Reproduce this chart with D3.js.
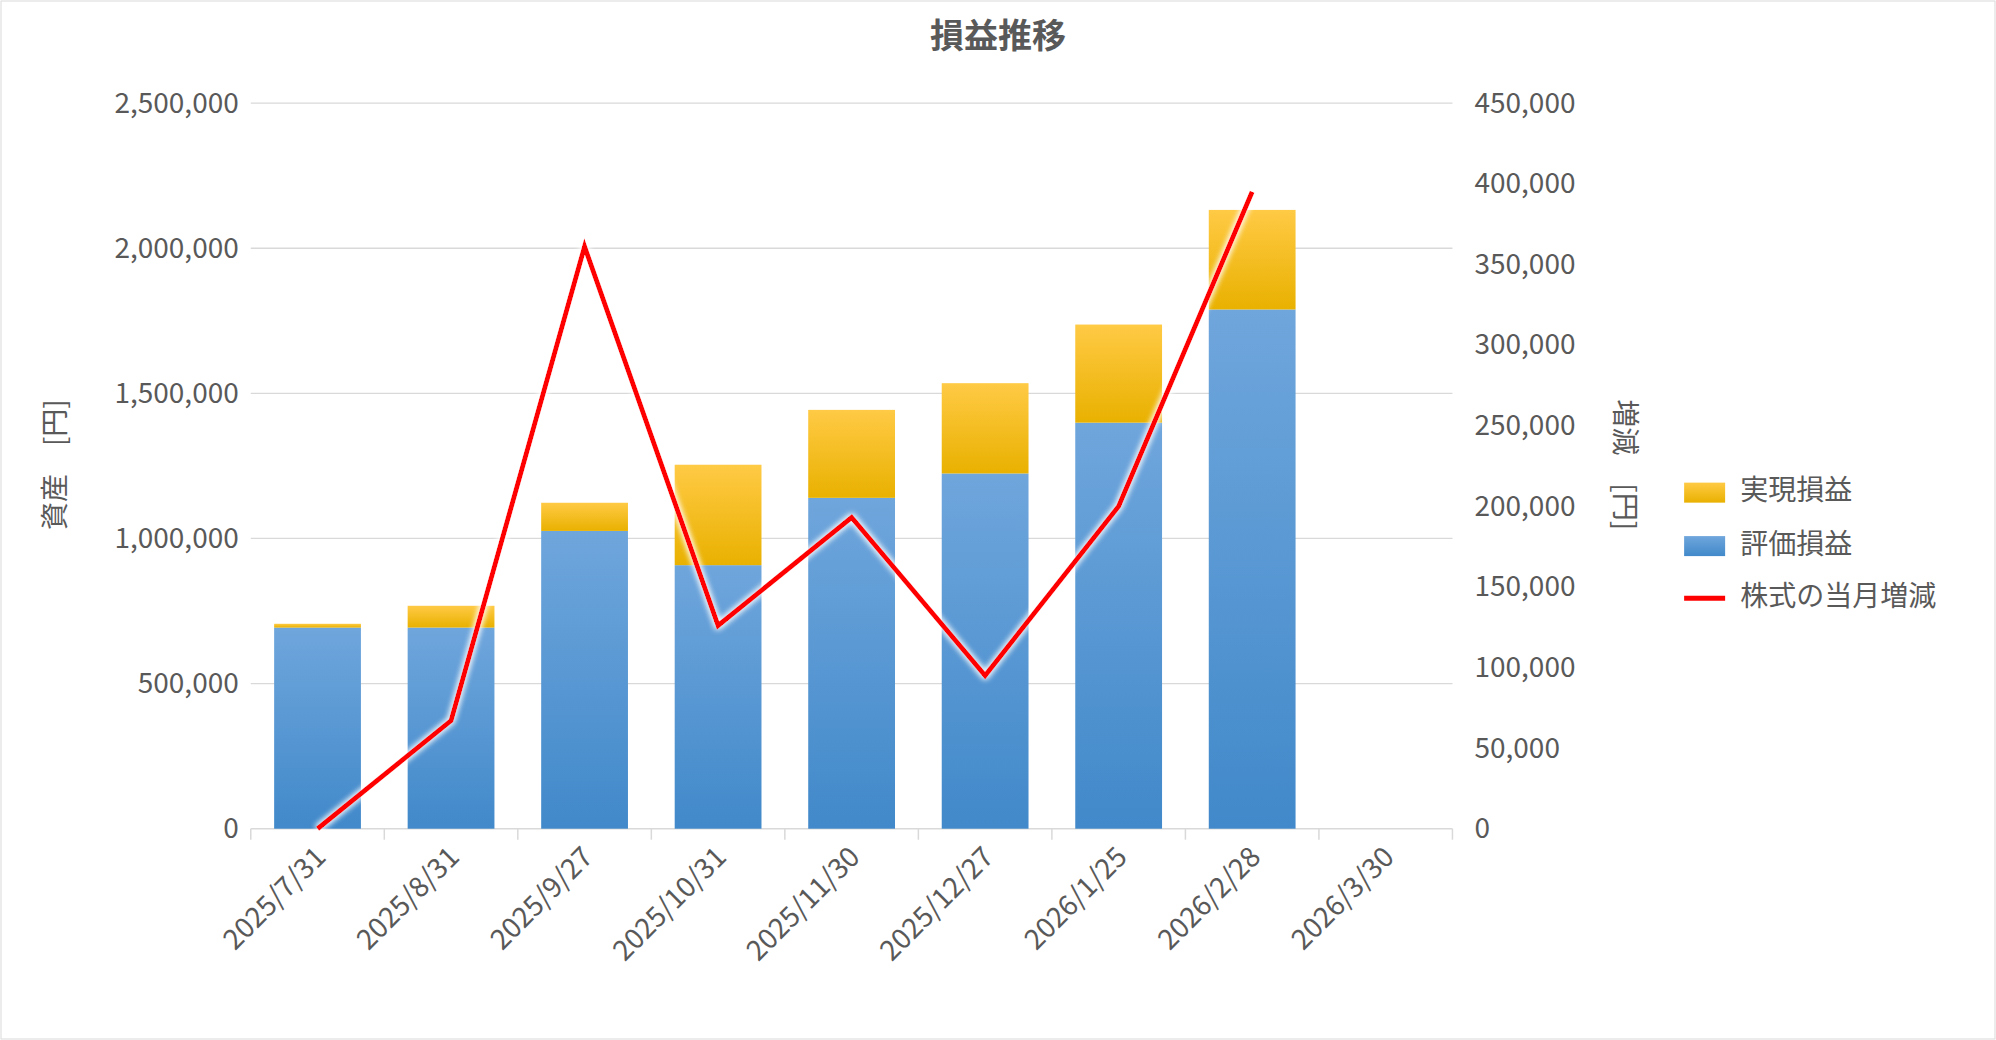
<!DOCTYPE html>
<html><head><meta charset="utf-8">
<script src="https://cdn.jsdelivr.net/npm/d3@7"></script>
<style>body{margin:0;background:#fff}text{font-family:"Noto Sans CJK JP","Noto Sans",sans-serif}</style>
</head><body><svg id="c" width="1996" height="1040"></svg>
<script>
// data
var dates = ["2025/7/31","2025/8/31","2025/9/27","2025/10/31","2025/11/30","2025/12/27","2026/1/25","2026/2/28","2026/3/30"];
var hyoka = [693000, 693000, 1026000, 908000, 1140000, 1224000, 1399000, 1789000, null];
var jitsugen = [13000, 75000, 97000, 346000, 303000, 311000, 338000, 343000, null];
var zougen = [0, 67000, 361000, 126000, 193000, 95000, 200000, 395000];
var leftTicks = [0, 500000, 1000000, 1500000, 2000000, 2500000];
var rightTicks = [0, 50000, 100000, 150000, 200000, 250000, 300000, 350000, 400000, 450000];

var k = 1996 / 1568;
var svg = d3.select("#c");
svg.append("rect").attr("x", 1).attr("y", 1).attr("width", 1994).attr("height", 1038)
  .attr("fill", "#fff").attr("stroke", "#d9d9d9");

var x0 = 197 * k, x1 = 1141 * k, yb = 651 * k, yt = 81 * k;
var x = d3.scaleBand().domain(dates).range([x0, x1]).paddingInner(0.35).paddingOuter(0.175);
var yL = d3.scaleLinear().domain([0, 2500000]).range([yb, yt]);
var yR = d3.scaleLinear().domain([0, 450000]).range([yb, yt]);
var fmt = d3.format(",");

var defs = svg.append("defs");
function grad(id, c1, c2) {
  var g = defs.append("linearGradient").attr("id", id).attr("x1", 0).attr("y1", 0).attr("x2", 0).attr("y2", 1);
  g.append("stop").attr("offset", "0%").attr("stop-color", c1);
  g.append("stop").attr("offset", "100%").attr("stop-color", c2);
}
grad("gb", "#6fa6dc", "#4189ca");
grad("gy", "#ffca45", "#e9b100");
var f = defs.append("filter").attr("id", "glow").attr("x", "-20%").attr("y", "-20%").attr("width", "140%").attr("height", "140%");
f.append("feGaussianBlur").attr("in", "SourceAlpha").attr("stdDeviation", 3).attr("result", "b");
f.append("feFlood").attr("flood-color", "#fff");
f.append("feComposite").attr("in2", "b").attr("operator", "in");
var m = f.append("feMerge");
m.append("feMergeNode"); m.append("feMergeNode"); m.append("feMergeNode").attr("in", "SourceGraphic");

// grid
svg.append("g").selectAll("line").data(leftTicks.slice(1)).join("line")
  .attr("x1", x0).attr("x2", x1).attr("y1", d => yL(d)).attr("y2", d => yL(d))
  .attr("stroke", "#d9d9d9").attr("stroke-width", 1.3);

// axes
var gl = svg.append("g").attr("transform", "translate(" + (x0 - 12) + ",0)")
  .call(d3.axisLeft(yL).tickValues(leftTicks).tickFormat(fmt).tickSize(0).tickPadding(0));
var gr = svg.append("g").attr("transform", "translate(" + (x1 + 22) + ",0)")
  .call(d3.axisRight(yR).tickValues(rightTicks).tickFormat(fmt).tickSize(0).tickPadding(0));
[gl, gr].forEach(function (g) {
  g.select(".domain").remove();
  g.selectAll("text").attr("font-size", 28).attr("fill", "#595959");
});

var step = x.step();
svg.append("line").attr("x1", x0).attr("x2", x1).attr("y1", yb).attr("y2", yb).attr("stroke", "#d9d9d9").attr("stroke-width", 1.5);
svg.append("g").selectAll("line").data(d3.range(dates.length + 1)).join("line")
  .attr("x1", i => x0 + i * step).attr("x2", i => x0 + i * step)
  .attr("y1", yb).attr("y2", yb + 11).attr("stroke", "#d9d9d9").attr("stroke-width", 1.5);
svg.append("g").selectAll("text").data(dates).join("text")
  .attr("transform", d => "translate(" + (x(d) + x.bandwidth() / 2 + 10) + "," + (yb + 30) + ") rotate(-45)")
  .attr("text-anchor", "end").attr("font-size", 28).attr("fill", "#595959").text(d => d);

// bars
var bars = dates.map((d, i) => ({d: d, h: hyoka[i], j: jitsugen[i]})).filter(o => o.h != null);
svg.append("g").selectAll("rect").data(bars).join("rect")
  .attr("x", o => x(o.d)).attr("width", x.bandwidth())
  .attr("y", o => yL(o.h)).attr("height", o => yb - yL(o.h)).attr("fill", "url(#gb)");
svg.append("g").selectAll("rect").data(bars).join("rect")
  .attr("x", o => x(o.d)).attr("width", x.bandwidth())
  .attr("y", o => yL(o.h + o.j)).attr("height", o => yL(o.h) - yL(o.h + o.j)).attr("fill", "url(#gy)");

// line
var line = d3.line().x((v, i) => x(dates[i]) + x.bandwidth() / 2).y(v => yR(v));
svg.append("path").datum(zougen).attr("d", line).attr("fill", "none")
  .attr("stroke", "#ff0000").attr("stroke-width", 5).attr("stroke-linejoin", "miter").attr("filter", "url(#glow)");

// titles
svg.append("text").attr("x", 998).attr("y", 48).attr("text-anchor", "middle").attr("font-size", 34)
  .attr("font-weight", "bold").attr("fill", "#595959").text("損益推移");
svg.append("text").attr("transform", "translate(" + (45 * k) + "," + (365 * k) + ") rotate(-90)")
  .attr("text-anchor", "middle").attr("dominant-baseline", "middle").attr("font-size", 28).attr("fill", "#595959").text("資産　[円]");
svg.append("text").attr("transform", "translate(" + (1275 * k) + "," + (365 * k) + ") rotate(90)")
  .attr("text-anchor", "middle").attr("dominant-baseline", "middle").attr("font-size", 28).attr("fill", "#595959").text("増減　[円]");

// legend
var lg = svg.append("g").attr("transform", "translate(" + (1323 * k) + "," + (387 * k) + ")");
lg.append("rect").attr("x", 0).attr("y", -10).attr("width", 41).attr("height", 20).attr("fill", "url(#gy)");
lg.append("text").attr("x", 56).attr("y", 0).attr("dominant-baseline", "middle").attr("font-size", 28).attr("fill", "#595959").text("実現損益");
lg.append("rect").attr("x", 0).attr("y", 42 * k - 10).attr("width", 41).attr("height", 20).attr("fill", "url(#gb)");
lg.append("text").attr("x", 56).attr("y", 42 * k).attr("dominant-baseline", "middle").attr("font-size", 28).attr("fill", "#595959").text("評価損益");
lg.append("line").attr("x1", 0).attr("x2", 41).attr("y1", 83 * k).attr("y2", 83 * k).attr("stroke", "#ff0000").attr("stroke-width", 5);
lg.append("text").attr("x", 56).attr("y", 83 * k).attr("dominant-baseline", "middle").attr("font-size", 28).attr("fill", "#595959").text("株式の当月増減");
</script></body></html>
